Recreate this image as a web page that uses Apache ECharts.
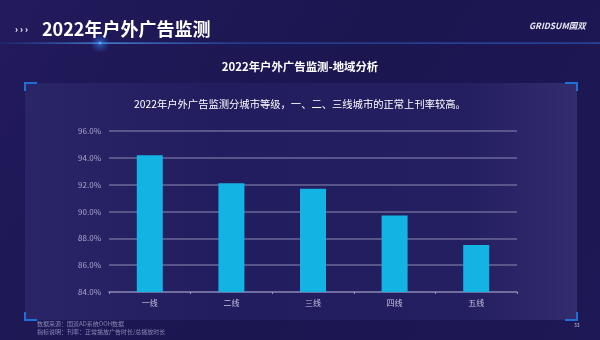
<!DOCTYPE html>
<html><head><meta charset="utf-8">
<script src="https://cdn.jsdelivr.net/npm/echarts@6/dist/echarts.min.js"></script>
<style>html,body{margin:0;padding:0;background:#1c1752;}#c{width:600px;height:340px;}</style>
</head><body><div id="c"></div>
<script>
const categories = ['一线', '二线', '三线', '四线', '五线'];
const rateValues = [94.2, 92.1, 91.7, 89.7, 87.5];
const yTicks = [84, 86, 88, 90, 92, 94, 96];

const FONT = '"Noto Sans CJK SC", "Noto Sans", sans-serif';
const chart = echarts.init(document.getElementById('c'), null, {renderer: 'canvas'});

function corner(x, y, dx, dy) {
  return {type: 'polyline', silent: true, z: 5,
    shape: {points: [[x + dx * 12, y], [x, y], [x, y + dy * 8]]},
    style: {stroke: '#1f6fd6', lineWidth: 2, fill: null}};
}

chart.setOption({
  backgroundColor: {type: 'linear', x: 0, y: 0, x2: 1, y2: 1, colorStops: [
    {offset: 0, color: '#221a5c'}, {offset: 0.5, color: '#1b1650'}, {offset: 1, color: '#1e1856'}]},
  textStyle: {fontFamily: FONT},
  graphic: [
    {type: 'rect', silent: true, z: 0, shape: {x: 25, y: 83, width: 552, height: 237},
      style: {fill: {type: 'linear', x: 0, y: 0, x2: 1, y2: 0, colorStops: [
        {offset: 0, color: '#2a2566'}, {offset: 0.35, color: '#221d5e'}, {offset: 0.8, color: '#241f60'}, {offset: 1, color: '#332d6e'}]}}},
    corner(25, 83, 1, 1), corner(577, 83, -1, 1), corner(25, 320, 1, -1), corner(577, 320, -1, -1),
    {type: 'rect', silent: true, z: 1, shape: {x: 0, y: 42.5, width: 600, height: 1.2},
      style: {fill: {type: 'linear', x: 0, y: 0, x2: 1, y2: 0, colorStops: [
        {offset: 0, color: 'rgba(40,120,230,0.15)'}, {offset: 0.17, color: 'rgba(90,170,255,0.9)'},
        {offset: 0.4, color: 'rgba(50,110,220,0.55)'}, {offset: 1, color: 'rgba(50,110,220,0.7)'}]}}},
    {type: 'ellipse', silent: true, z: 1, shape: {cx: 100, cy: 43, rx: 30, ry: 10},
      style: {fill: {type: 'radial', x: 0.5, y: 0.5, r: 0.5, colorStops: [
        {offset: 0, color: 'rgba(150,215,255,0.9)'}, {offset: 0.2, color: 'rgba(60,150,255,0.45)'}, {offset: 1, color: 'rgba(40,100,255,0)'}]}}},
    {type: 'text', silent: true, z: 3, left: 15, top: 25,
      style: {text: '› › ›', fill: '#ffffff', font: 'bold 9px ' + FONT}},
    {type: 'text', silent: true, z: 3, left: 42, top: 20,
      style: {text: '2022年户外广告监测', fill: '#ffffff', font: 'bold 18px ' + FONT}},
    {type: 'text', silent: true, z: 3, left: 529, top: 22,
      style: {text: 'GRIDSUM国双', fill: '#e8e8f4', font: 'italic bold 8.5px ' + FONT}},
    {type: 'text', silent: true, z: 3, left: 'center', top: 61,
      style: {text: '2022年户外广告监测-地域分析', fill: '#ffffff', font: 'bold 11.4px ' + FONT}},
    {type: 'text', silent: true, z: 3, left: 'center', top: 99,
      style: {text: '2022年户外广告监测分城市等级，一、二、三线城市的正常上刊率较高。', fill: '#ffffff', font: '10.3px ' + FONT}},
    {type: 'text', silent: true, z: 3, left: 37, top: 321,
      style: {text: '数据来源：国双AD系统OOH数据', fill: '#8a88b4', font: '6px ' + FONT}},
    {type: 'text', silent: true, z: 3, left: 37, top: 329,
      style: {text: '指标说明：刊率：正常播放广告时长/总播放时长', fill: '#8a88b4', font: '6px ' + FONT}},
    {type: 'text', silent: true, z: 3, left: 574, top: 323,
      style: {text: '33', fill: '#c8c8e0', font: '5px ' + FONT}}
  ],
  grid: {left: 109, right: 83, top: 131, bottom: 48},
  xAxis: {
    type: 'category', data: categories,
    axisLine: {lineStyle: {color: '#7a76a6', width: 1.5}},
    axisTick: {show: true, length: 2, lineStyle: {color: '#9a96c6'}},
    axisLabel: {color: '#c4c2e0', fontSize: 8, margin: 7, fontFamily: FONT}
  },
  yAxis: {
    type: 'value', min: yTicks[0], max: yTicks[yTicks.length - 1], interval: 2,
    axisLine: {show: false}, axisTick: {show: false},
    splitLine: {lineStyle: {color: '#6b6898', width: 1.5}},
    axisLabel: {color: '#a9a7cc', fontSize: 8, margin: 8, fontFamily: FONT,
      formatter: v => v.toFixed(1) + '%'}
  },
  series: [{
    type: 'bar', data: rateValues, barWidth: 26,
    itemStyle: {color: '#13b3e3'}, animation: false
  }],
  animation: false
});
</script></body></html>
